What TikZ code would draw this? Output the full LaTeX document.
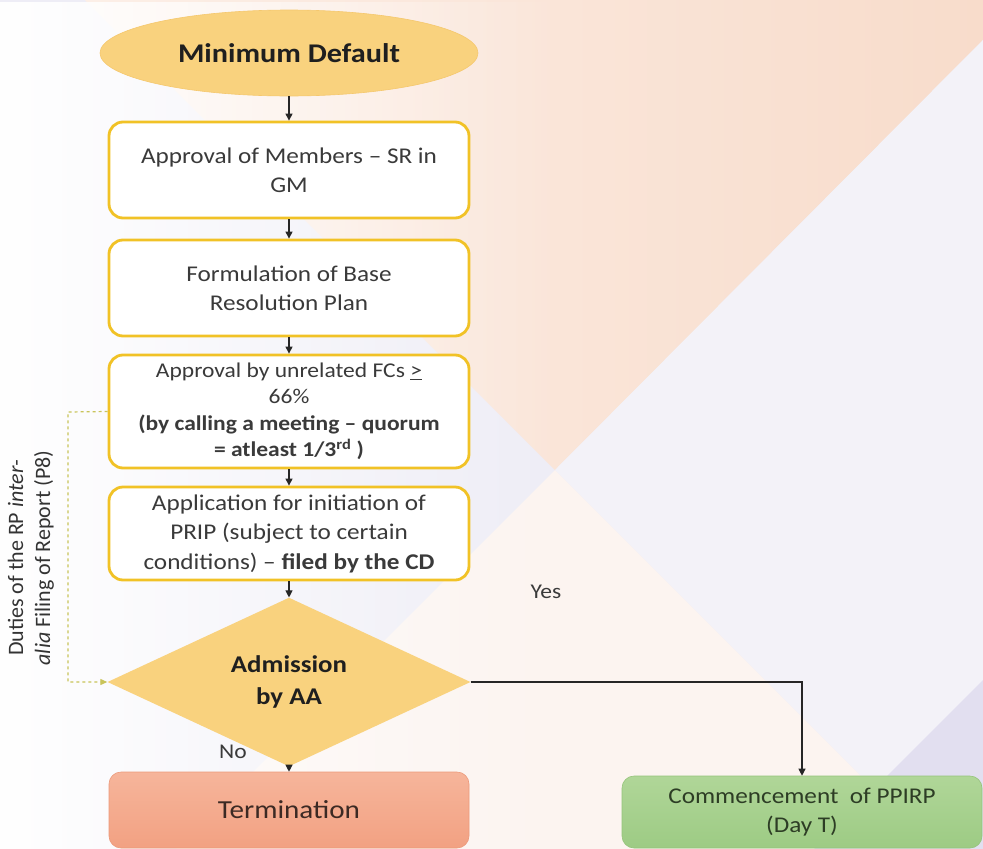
\documentclass[tikz,border=0pt]{standalone}
\usepackage{fontspec}
\setmainfont{Carlito}[FakeStretch=1.12]
\newfontfamily\dutyfont{Carlito}
\usetikzlibrary{shapes.geometric,arrows.meta,fadings}
\definecolor{peachR}{HTML}{F8DCCB}
\definecolor{peachL}{HTML}{FCEFE7}
\definecolor{lavL}{HTML}{EEEDF6}
\definecolor{lavR}{HTML}{F3F2F8}
\definecolor{lavD}{HTML}{E2DFF0}
\definecolor{bottomW}{HTML}{FCF4F0}
\definecolor{goldB}{HTML}{F1C226}
\definecolor{orangeF}{HTML}{F9D27E}
\definecolor{orangeD}{HTML}{F5C86E}
\definecolor{txtG}{HTML}{3A3A3A}
\definecolor{dashC}{HTML}{C9C45A}
\definecolor{termT}{HTML}{F6B59B}
\definecolor{termB}{HTML}{F2A182}
\definecolor{termD}{HTML}{EC9A7B}
\definecolor{termX}{HTML}{3C2A24}
\definecolor{commT}{HTML}{B0D698}
\definecolor{commB}{HTML}{9DCB84}
\definecolor{commD}{HTML}{95C47B}
\definecolor{commX}{HTML}{2D3D25}
\tikzset{
  fsz/.style 2 args={font=\fontsize{#1}{#2}\selectfont},
  stepbox/.style={draw=goldB, line width=2.8pt, fill=white, rounded corners=14pt,
    minimum width=360pt, align=center, text=txtG, inner sep=2pt},
  startnode/.style={ellipse, fill=orangeF, draw=orangeD, line width=0.6pt,
    minimum width=378pt, minimum height=86pt, inner sep=0pt, text=black!88},
  decnode/.style={diamond, fill=orangeF, minimum width=363pt, minimum height=128pt,
    inner sep=0pt, align=center, text=black!88},
  endnode/.style={rounded corners=12pt, align=center, inner sep=2pt},
  flow/.style={draw=black!85, line width=1.1pt, -{Triangle[length=7pt,width=7pt]}},
  dashflow/.style={draw=dashC, line width=1.2pt, dash pattern=on 3pt off 3pt,
    -{Triangle[length=7pt,width=6pt]}},
  lbl/.style={text=txtG, inner sep=0pt}
}
\begin{document}
\begin{tikzpicture}[x=1pt,y=-1pt]
\useasboundingbox (0,0) rectangle (983,849);
% background
\fill[lavL] (0,0) rectangle (983,849);
\shade[left color=peachL, right color=peachR] (85,0) -- (983,0) -- (983,40) -- (555,470) -- cycle;
\fill[lavR] (983,40) -- (555,470) -- (934,849) -- (983,849) -- cycle;
\fill[bottomW] (176,849) -- (555,470) -- (934,849) -- cycle;
\fill[lavD] (983,680) -- (814,849) -- (983,849) -- cycle;
\fill[white, path fading=east] (0,0) rectangle (560,849);

% nodes
\node[startnode, fsz={27}{32}] (md) at (289,53) {\textbf{Minimum Default}};
\node[stepbox, minimum height=96pt, fsz={22.5}{29}] (b1) at (289,170)
  {Approval of Members -- SR in\\GM};
\node[stepbox, minimum height=96pt, fsz={22.5}{29}] (b2) at (289,288)
  {Formulation of Base\\Resolution Plan};
\node[stepbox, minimum height=113pt, fsz={21}{26.5}] (b3) at (289,411.5)
  {Approval by unrelated FCs \underline{>}\\66\%\\\textbf{(by calling a meeting -- quorum}\\\textbf{= atleast 1/3\textsuperscript{rd} )}};
\node[stepbox, minimum height=93pt, fsz={22.5}{29.5}] (b4) at (289,533.5)
  {Application for initiation of\\PRIP (subject to certain\\conditions) -- \textbf{filed by the CD}};
\node[decnode, fsz={24}{32}] (dia) at (289,682) {\textbf{Admission}\\\textbf{by AA}};
\node[endnode, minimum width=360pt, minimum height=76pt, top color=termT, bottom color=termB,
  draw=termD, line width=0.6pt, text=termX, fsz={26}{30}] (term) at (289,810) {Termination};
\node[endnode, minimum width=360pt, minimum height=72pt, top color=commT, bottom color=commB,
  draw=commD, line width=0.6pt, text=commX, fsz={22.5}{29}] (comm) at (802,812)
  {Commencement \ of PPIRP\\(Day T)};

\node[lbl, rotate=90, align=center, font=\dutyfont\fontsize{22}{27}\selectfont, text=black!80] (duty) at (31,558)
  {Duties of the RP \textit{inter-}\\\textit{alia} Filing of Report (P8)};
\node[lbl, fsz={21}{24}] (yes) at (546,592) {Yes};
\node[lbl, fsz={21}{24}] (no) at (233,752) {No};

\coordinate (dtop) at (68,412);
\coordinate (dbot) at (68,682);

% connectors
\draw[flow] (md) -- (b1);
\draw[flow] (b1) -- (b2);
\draw[flow] (b2) -- (b3);
\draw[flow] (b3) -- (b4);
\draw[flow] (b4) -- (dia);
\draw[flow] (dia) -- (term);
\draw[flow] (dia.east) -| (comm.north);
\draw[dashflow] (b3.west) -- (dtop) -- (dbot) -- (dia.west);
\end{tikzpicture}
\end{document}
